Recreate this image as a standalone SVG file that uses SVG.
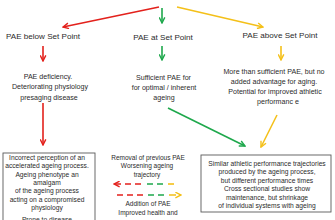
<svg xmlns="http://www.w3.org/2000/svg" width="335" height="220" viewBox="0 0 335 220">
<style>
text{font-family:"Liberation Sans",Arial,sans-serif;fill:#2b2b2b;text-anchor:middle}
.lbl{font-size:8.1px}
.mid{font-size:7.1px}
.box{font-size:6.7px}
.dt{font-size:6.5px}
.r{stroke:#e3211c}
.g{stroke:#1ea84c}
.y{stroke:#f4c019}
.ln{fill:none;stroke-width:1.6}
.d{fill:none;stroke-width:1.6;stroke-dasharray:6 4}
rect{fill:#fff;stroke:#595959;stroke-width:0.9}
</style>
<defs>
<marker id="mr" viewBox="0 0 10 10" refX="9" refY="5" markerWidth="7" markerHeight="7" markerUnits="userSpaceOnUse" orient="auto"><path d="M1,1 L9,5 L1,9" fill="none" stroke="#e3211c" stroke-width="2"/></marker>
<marker id="mg" viewBox="0 0 10 10" refX="9" refY="5" markerWidth="7" markerHeight="7" markerUnits="userSpaceOnUse" orient="auto"><path d="M1,1 L9,5 L1,9" fill="none" stroke="#1ea84c" stroke-width="2"/></marker>
<marker id="my" viewBox="0 0 10 10" refX="9" refY="5" markerWidth="7" markerHeight="7" markerUnits="userSpaceOnUse" orient="auto"><path d="M1,1 L9,5 L1,9" fill="none" stroke="#f4c019" stroke-width="2"/></marker>
</defs>
<g id="connectors">
<line class="ln r" x1="159" y1="7" x2="63" y2="27" marker-end="url(#mr)"/>
<line class="ln g" x1="162" y1="8" x2="162" y2="23" marker-end="url(#mg)"/>
<line class="ln y" x1="177" y1="7" x2="263" y2="27" marker-end="url(#my)"/>
<line class="ln r" x1="43" y1="46" x2="43" y2="61" marker-end="url(#mr)"/>
<line class="ln g" x1="162" y1="46" x2="162" y2="60" marker-end="url(#mg)"/>
<line class="ln y" x1="281" y1="46" x2="281" y2="60" marker-end="url(#my)"/>
<line class="ln r" x1="43" y1="103" x2="43" y2="145" marker-end="url(#mr)"/>
<line class="ln g" x1="168" y1="108" x2="245" y2="146" marker-end="url(#mg)"/>
<line class="ln y" x1="277" y1="115" x2="261" y2="147" marker-end="url(#my)"/>
<path class="d r" d="M141,184 H114" marker-end="url(#mr)"/>
<path class="d g" d="M147,184 H164"/>
<path class="d y" d="M168,184 H175"/>
<path class="d r" d="M117,195 H145"/>
<path class="d g" d="M148,195 H166"/>
<path class="ln y" d="M169,195 H181" stroke-dasharray="7 3" marker-end="url(#my)"/>
</g>
<g id="below"><text class="lbl" x="43" y="39">PAE below Set Point</text></g>
<g id="at"><text class="lbl" x="163" y="40">PAE at Set Point</text></g>
<g id="above"><text class="lbl" x="280" y="38">PAE above Set Point</text></g>
<g id="deficiency">
<text class="mid" x="48" y="78.5">PAE deficiency.</text>
<text class="mid" x="50" y="89">Deteriorating physiology</text>
<text class="mid" x="49" y="99.5">presaging disease</text>
</g>
<g id="sufficient">
<text class="mid" x="163.5" y="80">Sufficient PAE for</text>
<text class="mid" x="164" y="90">for optimal / inherent</text>
<text class="mid" x="164" y="100">ageing</text>
</g>
<g id="more">
<text class="mid" x="274" y="73.5">More than sufficient PAE, but no</text>
<text class="mid" x="274" y="83.5">added advantage for aging.</text>
<text class="mid" x="275" y="93.5">Potential for improved athletic</text>
<text class="mid" x="278" y="104">performanc e</text>
</g>
<g id="incorrect">
<rect x="3" y="153" width="92" height="80"/>
<text class="box" x="47" y="160">Incorrect perception of an</text>
<text class="box" x="47" y="168.3">accelerated ageing process.</text>
<text class="box" x="47" y="176.6">Ageing phenotype an</text>
<text class="box" x="47" y="184.9">amalgam</text>
<text class="box" x="47" y="193.2">of the ageing process</text>
<text class="box" x="47" y="201.5">acting on a compromised</text>
<text class="box" x="47" y="209.8">physiology</text>
<text class="box" x="47" y="222">Prone to disease</text>
</g>
<g id="changes">
<text class="dt" x="148" y="159.5">Removal of previous PAE</text>
<text class="dt" x="147" y="168">Worsening ageing</text>
<text class="dt" x="147" y="176.5">trajectory</text>
<text class="dt" x="148" y="205.5">Addition of PAE</text>
<text class="dt" x="148" y="214.5">Improved health and</text>
</g>
<g id="similar">
<rect x="201" y="155" width="130" height="57"/>
<text class="box" x="267" y="165.5">Similar athletic performance trajectories</text>
<text class="box" x="267" y="174">produced by the ageing process,</text>
<text class="box" x="267" y="182.5">but different performance times</text>
<text class="box" x="267" y="191">Cross sectional studies show</text>
<text class="box" x="267" y="199.5">maintenance, but shrinkage</text>
<text class="box" x="267" y="208">of individual systems with ageing</text>
</g>
</svg>
